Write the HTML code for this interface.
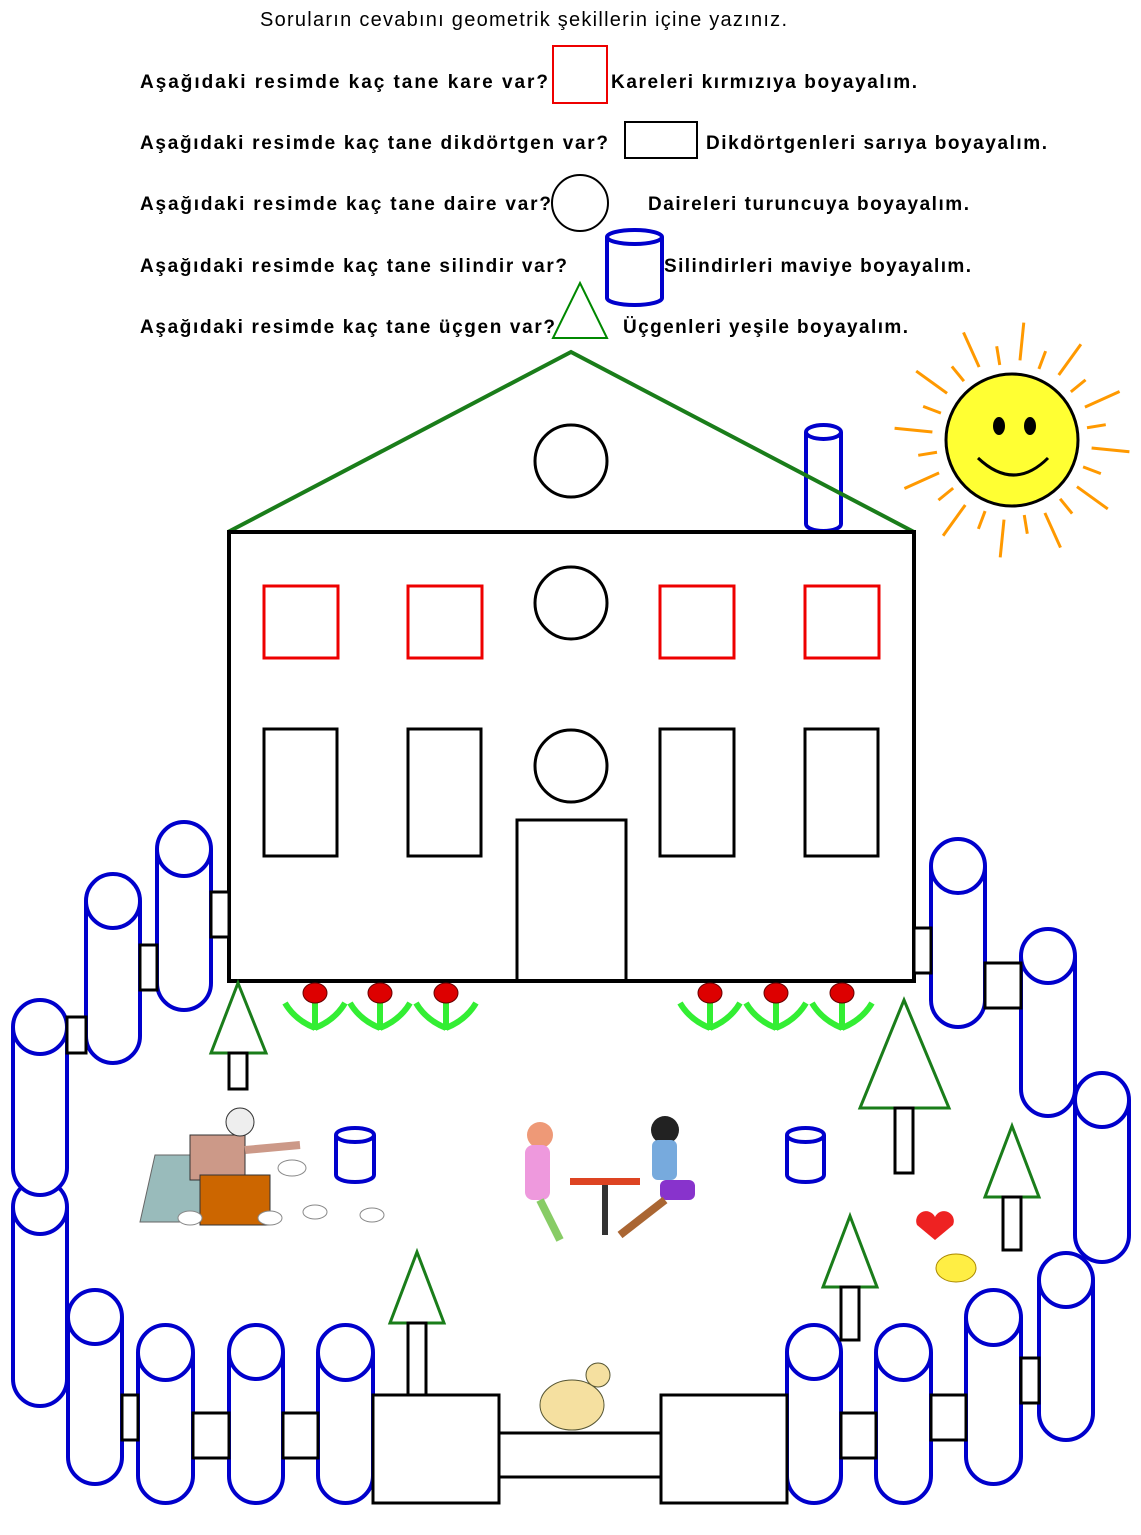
<!DOCTYPE html>
<html><head><meta charset="utf-8"><style>
html,body{margin:0;padding:0;background:#fff;width:1141px;height:1535px;overflow:hidden}
svg{display:block}
text{font-family:"Liberation Sans",sans-serif}
</style></head><body>
<svg id="s" width="1141" height="1535" xmlns="http://www.w3.org/2000/svg">
<text x="260" y="26" font-size="20" fill="#000" textLength="527" lengthAdjust="spacing">Soruların cevabını geometrik şekillerin içine yazınız.</text>
<g font-size="19" font-weight="bold" fill="#000" lengthAdjust="spacing">
<text x="140" y="88" textLength="408">Aşağıdaki resimde kaç tane kare var?</text>
<text x="611" y="88" textLength="306">Kareleri kırmızıya boyayalım.</text>
<text x="140" y="149" textLength="468">Aşağıdaki resimde kaç tane dikdörtgen var?</text>
<text x="706" y="149" textLength="341">Dikdörtgenleri sarıya boyayalım.</text>
<text x="140" y="210" textLength="411">Aşağıdaki resimde kaç tane daire var?</text>
<text x="648" y="210" textLength="321">Daireleri turuncuya boyayalım.</text>
<text x="140" y="272" textLength="427">Aşağıdaki resimde kaç tane silindir var?</text>
<text x="664" y="272" textLength="307">Silindirleri maviye boyayalım.</text>
<text x="140" y="333" textLength="415">Aşağıdaki resimde kaç tane üçgen var?</text>
<text x="623" y="333" textLength="285">Üçgenleri yeşile boyayalım.</text>
</g>
<rect x="553" y="46" width="54" height="57" fill="none" stroke="#e00" stroke-width="2"/>
<rect x="625" y="122" width="72" height="36" fill="none" stroke="#000" stroke-width="2"/>
<circle cx="580" cy="203" r="28" fill="none" stroke="#000" stroke-width="2"/>
<polygon points="580,283 607,338 553,338" fill="none" stroke="#080" stroke-width="2"/>
<g id="cyls" fill="none" stroke="#00c" stroke-width="4"></g>
<polygon points="228,532 571,352 914,532" fill="none" stroke="#1a7d1a" stroke-width="4"/>
<rect x="229" y="532" width="685" height="449" fill="none" stroke="#000" stroke-width="4"/>
<g fill="none" stroke="#000" stroke-width="3">
<circle cx="571" cy="461" r="36"/><circle cx="571" cy="603" r="36"/><circle cx="571" cy="766" r="36"/>
<rect x="264" y="729" width="73" height="127"/><rect x="408" y="729" width="73" height="127"/>
<rect x="660" y="729" width="74" height="127"/><rect x="805" y="729" width="73" height="127"/>
<rect x="517" y="820" width="109" height="161"/>
</g>
<g fill="none" stroke="#e00" stroke-width="3">
<rect x="264" y="586" width="74" height="72"/><rect x="408" y="586" width="74" height="72"/>
<rect x="660" y="586" width="74" height="72"/><rect x="805" y="586" width="74" height="72"/>
</g>
<g id="conn" fill="#fff" stroke="#000" stroke-width="3"></g>
<g id="trees" fill="none"></g>
<g id="fl"></g>
<g id="sun"></g>
<g>
<polygon points="155,1155 205,1155 200,1222 140,1222" fill="#9bb" stroke="#666"/>
<rect x="190" y="1135" width="55" height="45" fill="#c98" stroke="#333"/>
<circle cx="240" cy="1122" r="14" fill="#eee" stroke="#333"/>
<rect x="200" y="1175" width="70" height="50" fill="#c60" stroke="#333"/>
<path d="M245 1150 L300 1145" stroke="#c98" stroke-width="8"/>
<g fill="#fff" stroke="#888"><ellipse cx="190" cy="1218" rx="12" ry="7"/><ellipse cx="270" cy="1218" rx="12" ry="7"/><ellipse cx="315" cy="1212" rx="12" ry="7"/><ellipse cx="372" cy="1215" rx="12" ry="7"/><ellipse cx="292" cy="1168" rx="14" ry="8"/></g>
<circle cx="540" cy="1135" r="13" fill="#e97"/>
<rect x="525" y="1145" width="25" height="55" rx="8" fill="#e9d"/>
<path d="M540 1200 L560 1240" stroke="#8c6" stroke-width="8"/>
<rect x="570" y="1178" width="70" height="7" fill="#d42"/>
<rect x="602" y="1185" width="6" height="50" fill="#333"/>
<circle cx="665" cy="1130" r="14" fill="#222"/>
<rect x="652" y="1140" width="25" height="40" rx="6" fill="#7ad"/>
<rect x="660" y="1180" width="35" height="20" rx="6" fill="#83c"/>
<path d="M665 1200 L620 1235" stroke="#a63" stroke-width="8"/>
<path d="M935 1240 l-18 -15 a9 9 0 0 1 18 -8 a9 9 0 0 1 18 8z" fill="#e22"/>
<ellipse cx="956" cy="1268" rx="20" ry="14" fill="#fe4" stroke="#a80"/>
<ellipse cx="572" cy="1405" rx="32" ry="25" fill="#f5e0a0" stroke="#553"/>
<circle cx="598" cy="1375" r="12" fill="#f5e0a0" stroke="#553"/>
</g>
</svg>
<script>
const NS="http://www.w3.org/2000/svg";
function el(p,t,a){const e=document.createElementNS(NS,t);for(const k in a)e.setAttribute(k,a[k]);p.appendChild(e);return e;}
const C=document.getElementById('cyls');
function cyl(x1,y1,x2,y2){const w=x2-x1,r=w/2,cx=x1+r;
 el(C,'path',{d:`M${x1} ${y1+r} L${x1} ${y2-r} A${r} ${r} 0 0 0 ${x2} ${y2-r} L${x2} ${y1+r}`,fill:'#fff'});
 el(C,'circle',{cx:cx,cy:y1+r,r:r,fill:'#fff'});}
function scyl(x1,y1,x2,y2){const rx=(x2-x1)/2,cx=x1+rx,ry=7;
 el(C,'path',{d:`M${x1} ${y1+ry} L${x1} ${y2-ry} A${rx} ${ry} 0 0 0 ${x2} ${y2-ry} L${x2} ${y1+ry}`,fill:'#fff'});
 el(C,'ellipse',{cx:cx,cy:y1+ry,rx:rx,ry:ry,fill:'#fff'});}
[[157,822,211,1010],[86,874,140,1063],[13,1180,67,1406],[13,1000,67,1195],[68,1290,122,1484],[138,1325,193,1503],[229,1325,283,1503],[318,1325,373,1503],
[787,1325,841,1503],[876,1325,931,1503],[966,1290,1021,1484],[1039,1253,1093,1440],[1075,1073,1129,1262],[1021,929,1075,1116],[931,839,985,1027]].forEach(a=>cyl(...a));
scyl(607,230,662,305);scyl(806,425,841,531);scyl(336,1128,374,1182);scyl(787,1128,824,1182);
const K=document.getElementById('conn');
[[211,892,18,45],[140,945,17,45],[67,1017,19,36],[122,1395,16,45],[193,1413,36,45],[283,1413,35,45],[373,1395,126,108],[499,1433,162,44],[661,1395,126,108],
[841,1413,35,45],[931,1395,35,45],[1021,1358,18,45],[985,963,36,45],[914,928,17,45]].forEach(a=>el(K,'rect',{x:a[0],y:a[1],width:a[2],height:a[3]}));
const T=document.getElementById('trees');
function tree(ax,ay,bx1,bx2,by,tx,tw,ty2){el(T,'polygon',{points:`${ax},${ay} ${bx2},${by} ${bx1},${by}`,stroke:'#1a7d1a','stroke-width':3,fill:'#fff'});
 el(T,'rect',{x:tx,y:by,width:tw,height:ty2-by,stroke:'#000','stroke-width':3,fill:'#fff'});}
tree(238,983,211,266,1053,229,18,1089);tree(904,1000,860,949,1108,895,18,1173);tree(1012,1126,985,1039,1197,1003,18,1250);
tree(850,1216,823,877,1287,841,18,1340);tree(417,1252,390,444,1323,408,18,1395);
const F=document.getElementById('fl');
[315,380,446,710,776,842].forEach(x=>{el(F,'path',{d:`M${x} 1030 L${x} 1000 M${x} 1028 Q${x-20} 1020 ${x-30} 1003 M${x} 1028 Q${x+20} 1020 ${x+30} 1003`,stroke:'#3e3',fill:'none','stroke-width':6});
 el(F,'ellipse',{cx:x,cy:993,rx:12,ry:10,fill:'#d00',stroke:'#600'});});
const S=document.getElementById('sun');const cx=1012,cy=440;
for(let i=0;i<24;i++){const a=i*Math.PI/12+0.1,r1=i%2?76:80,r2=i%2?95:118;
 el(S,'line',{x1:cx+r1*Math.cos(a),y1:cy+r1*Math.sin(a),x2:cx+r2*Math.cos(a),y2:cy+r2*Math.sin(a),stroke:'#f90','stroke-width':3});}
el(S,'circle',{cx:cx,cy:cy,r:66,fill:'#ff3',stroke:'#000','stroke-width':3});
el(S,'ellipse',{cx:999,cy:426,rx:6,ry:9,fill:'#000'});el(S,'ellipse',{cx:1030,cy:426,rx:6,ry:9,fill:'#000'});
el(S,'path',{d:'M978 458 Q1014 492 1048 458',stroke:'#000','stroke-width':3,fill:'none'});
</script>
</body></html>
